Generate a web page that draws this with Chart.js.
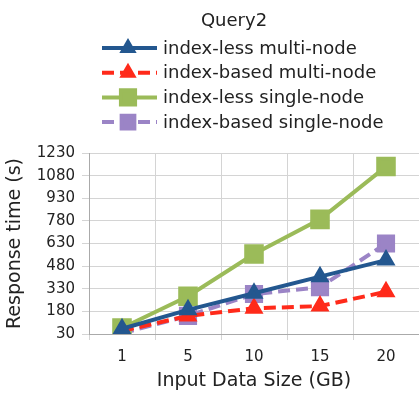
<!DOCTYPE html>
<html>
<head>
<meta charset="utf-8">
<script src="https://cdn.jsdelivr.net/npm/chart.js@4/dist/chart.umd.min.js"></script>
<style>
  body { margin: 0; background: #fff; }
  #wrap { width: 419px; height: 396px; }
</style>
</head>
<body>
<div id="wrap"><canvas id="chart" width="419" height="396"></canvas></div>
<script>
let sizes = ["1", "5", "10", "15", "20"];
let indexLessMulti = [65, 190, 300, 410, 520];
let indexBasedMulti = [50, 150, 200, 215, 310];
let indexLessSingle = [70, 280, 560, 790, 1140];
let indexBasedSingle = [35, 150, 295, 340, 630];
let seriesNames = ["index-less multi-node", "index-based multi-node", "index-less single-node", "index-based single-node"];

let fontName = "'DejaVu Sans', Verdana, sans-serif";
let textColor = "#222";

// legend drawn by hand: one row per series, line + marker + label
let legendRows = {
    id: "legendRows",
    afterDraw(chart) {
        let ctx = chart.ctx;
        ctx.save();
        ctx.fillStyle = textColor;
        ctx.font = "18px " + fontName;
        ctx.textAlign = "center";
        ctx.textBaseline = "middle";
        ctx.fillText("Query2", 234, 21);

        chart.data.datasets.forEach((ds, i) => {
            let y = 48 + i * 24.7;
            ctx.strokeStyle = ds.borderColor;
            ctx.fillStyle = ds.borderColor;
            ctx.lineWidth = ds.borderWidth;
            ctx.setLineDash(ds.borderDash || []);
            ctx.beginPath();
            ctx.moveTo(102, y);
            ctx.lineTo(157, y);
            ctx.stroke();
            ctx.setLineDash([]);
            Chart.helpers.drawPoint(ctx, {
                pointStyle: ds.pointStyle,
                radius: ds.pointRadius - 1,
                borderWidth: 1
            }, 128, y);
            ctx.fillStyle = textColor;
            ctx.textAlign = "left";
            ctx.fillText(ds.label, 163, y + 1);
        });
        ctx.restore();
    }
};

function series(label, data, color, dash, style, radius) {
    return {
        label: label,
        data: data,
        borderColor: color,
        backgroundColor: color,
        pointBackgroundColor: color,
        pointBorderColor: color,
        borderWidth: 4,
        borderDash: dash,
        pointStyle: style,
        pointRadius: radius,
        tension: 0,
        fill: false
    };
}

new Chart(document.getElementById("chart"), {
    type: "line",
    data: {
        labels: sizes,
        datasets: [
            series(seriesNames[0], indexLessMulti, "#23578f", [], "triangle", 7),
            series(seriesNames[1], indexBasedMulti, "#ff2a1a", [12, 6], "triangle", 7),
            series(seriesNames[2], indexLessSingle, "#9bbb59", [], "rect", 11),
            series(seriesNames[3], indexBasedSingle, "#9b84c6", [12, 6], "rect", 10)
        ]
    },
    options: {
        responsive: false,
        animation: false,
        layout: { autoPadding: false, padding: { top: 153, right: -3, left: 0, bottom: 0 } },
        plugins: {
            legend: { display: false },
            title: { display: false },
            tooltip: { enabled: false }
        },
        scales: {
            x: {
                offset: true,
                afterFit: s => { s.height = 62; },
                grid: { offset: true, color: "#d4d4d4", drawTicks: true, tickLength: 6 },
                border: { color: "#aaa" },
                ticks: { color: textColor, font: { size: 15, family: fontName }, padding: 8 },
                title: { display: true, text: "Input Data Size (GB)", color: textColor,
                         font: { size: 19, family: fontName }, padding: { top: 0 } }
            },
            y: {
                min: 30,
                max: 1230,
                afterFit: s => { s.width = 89; },
                ticks: { stepSize: 150, color: textColor, font: { size: 15, family: fontName }, padding: 7,
                         callback: v => String(v) },
                grid: { color: "#d4d4d4", drawTicks: true, tickLength: 7 },
                border: { display: true, color: "#aaa" },
                title: { display: true, text: "Response time (s)", color: textColor,
                         font: { size: 19, family: fontName }, padding: { bottom: 0 } }
            }
        }
    },
    plugins: [legendRows]
});
</script>
</body>
</html>
